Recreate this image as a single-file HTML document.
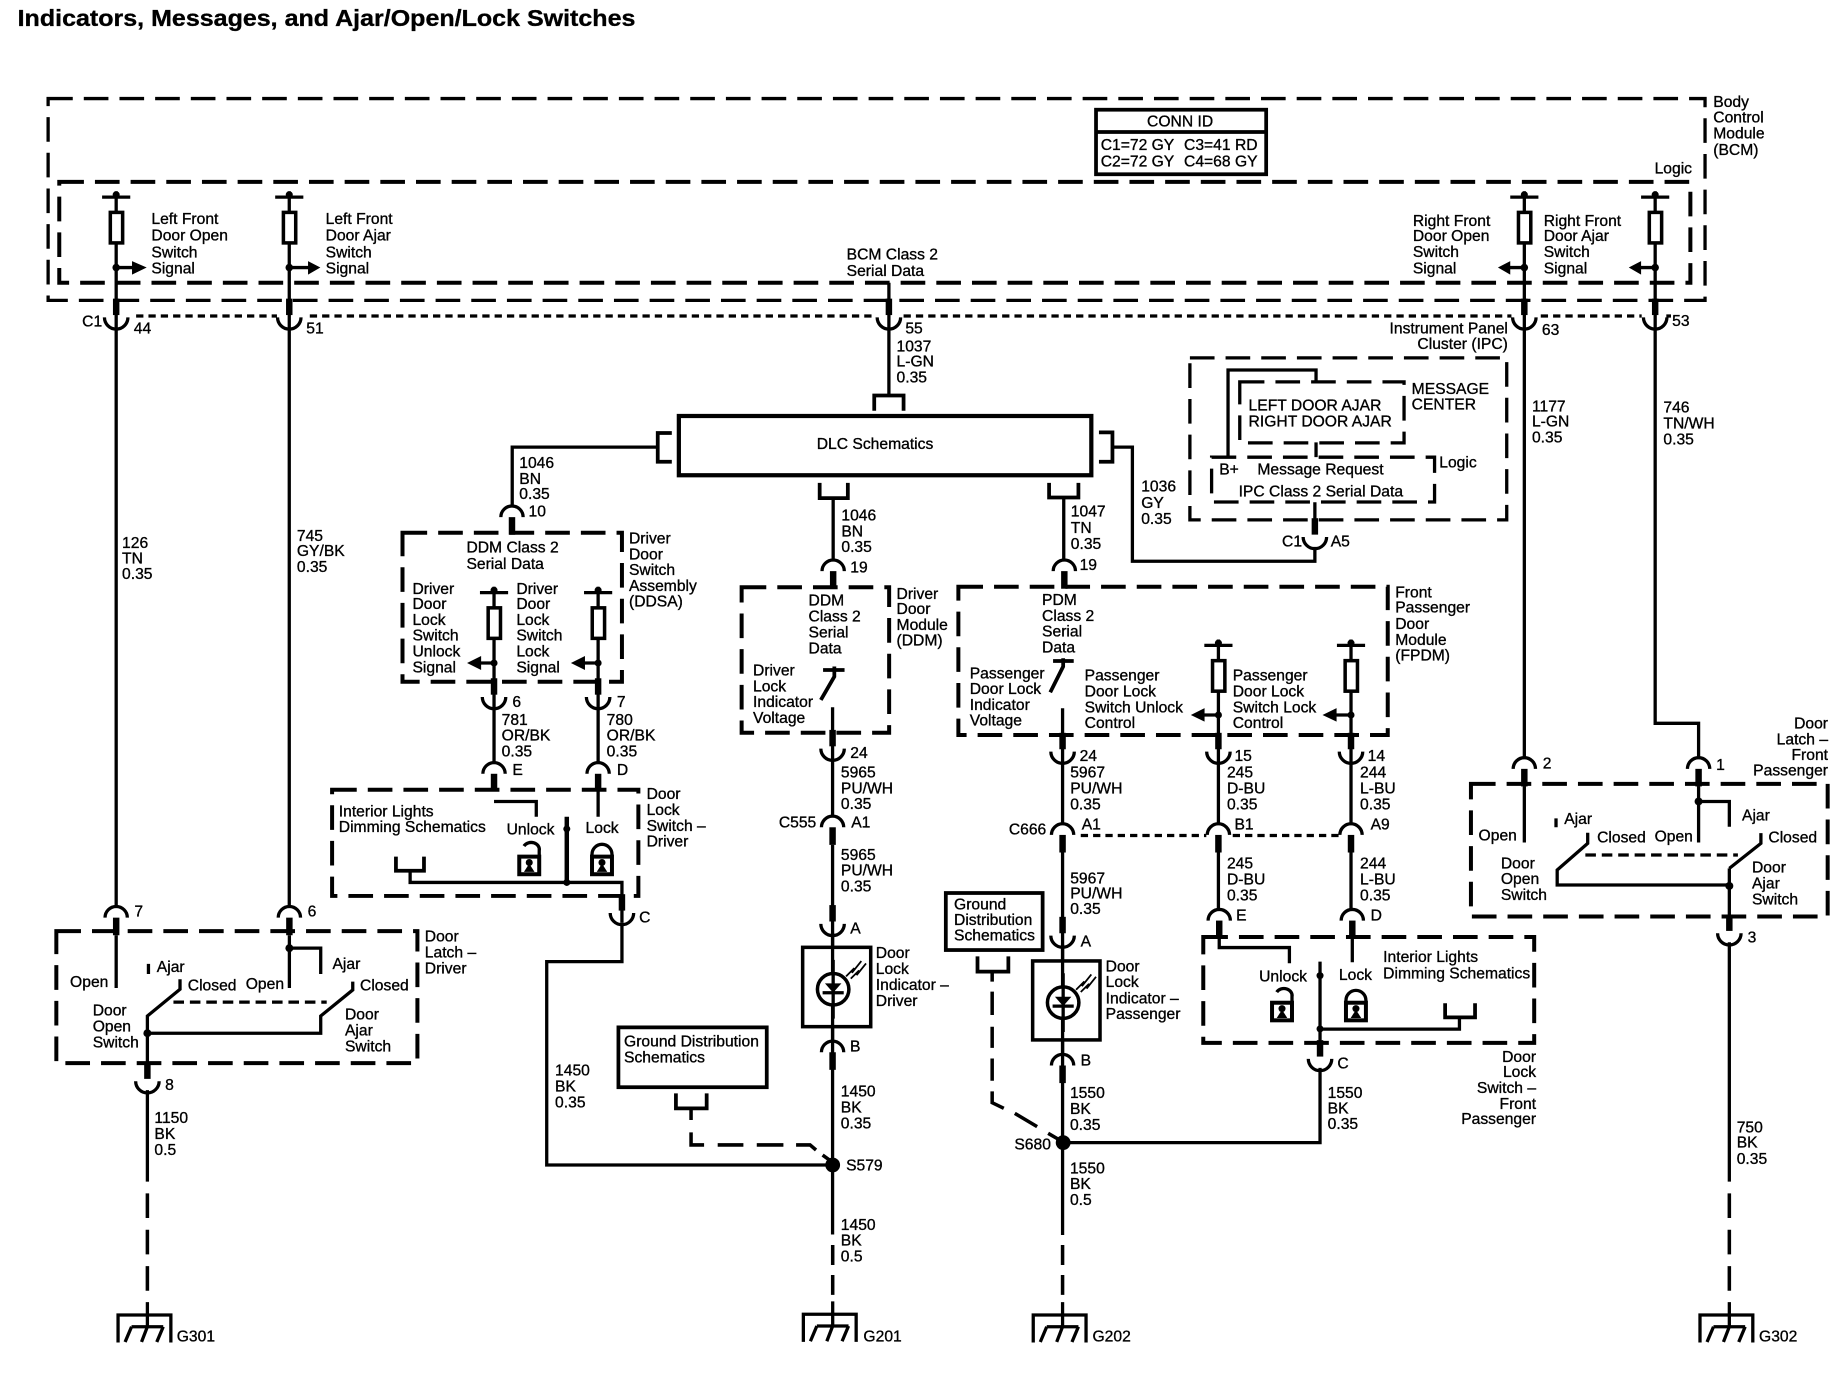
<!DOCTYPE html>
<html><head><meta charset="utf-8"><title>Indicators, Messages, and Ajar/Open/Lock Switches</title>
<style>
html,body{margin:0;padding:0;background:#fff}
svg{display:block}
text{font-family:"Liberation Sans",Arial,sans-serif;font-size:13.35px;fill:#000;stroke:#000;stroke-width:.28}
.w{stroke:#000;stroke-width:2.8;fill:none}
.th{stroke:#000;stroke-width:5.5;fill:none}
.b{stroke:#000;stroke-width:3.4;fill:none;stroke-dasharray:21 9.4}
.b2{stroke:#000;stroke-width:2.8;fill:none;stroke-dasharray:21 9.4}
.o{stroke:#000;stroke-width:3.2;fill:none}
.dot{stroke:#000;stroke-width:2.8;fill:none;stroke-dasharray:6.2 4.3}
.ld{stroke:#000;stroke-width:3;fill:none;stroke-dasharray:21 10}
.ls{stroke:#000;stroke-width:3;fill:none;stroke-dasharray:17 8.5}
.e{stroke:#000;stroke-width:3;fill:none}
.s{fill:#000;stroke:none}
</style></head><body>
<svg xmlns="http://www.w3.org/2000/svg" width="1840" height="1376" viewBox="0 0 1568 1172.6">
<defs>
<g id="u"><path class="w" d="M-10-8A10 10 0 0 0 10-8"/><path class="th" d="M0-10V-24"/></g>
<g id="n"><path class="w" d="M-9.500 9A9.500 9.500 0 0 1 9.500 9"/><path class="th" d="M0 9V24"/></g>
<g id="f"><path class="w" d="M-12 0H12M0-5V13"/><circle class="s" cy="-2" r="3"/><rect x="-5" y="13" width="10.500" height="26" fill="#fff" stroke="#000" stroke-width="3"/></g>
<g id="g"><path class="w" d="M0-11V10M-25 23.500V0H20V23.500M-13.500 10H13.500M-13.500 10L-19 23M0 10L-5 23M13.500 10L8 23"/></g>
<g id="led"><circle r="13.400" fill="#fff" stroke="#000" stroke-width="3"/><path class="w" d="M0-25V25M-9 3H9"/><path class="s" d="M-7-5H7L0 3Z"/><path stroke="#000" stroke-width="1.500" fill="none" d="M11-11L18-18L16-14L24-24M15-9L22-16L20-12L28-22"/></g>
<g id="lk"><path class="w" d="M0 0V-2A8.500 8.500 0 0 1 17-2V0"/><rect width="17" height="15" fill="#fff" stroke="#000" stroke-width="3.400"/><circle class="s" cx="8.500" cy="5" r="3"/><path class="s" d="M4 13L8.500 6L13 13Z"/></g>
<g id="ul"><path class="w" d="M4-9A7 6 0 0 1 17-5V0"/><rect width="17" height="15" fill="#fff" stroke="#000" stroke-width="3.400"/><circle class="s" cx="8.500" cy="5" r="3"/><path class="s" d="M4 13L8.500 6L13 13Z"/></g>
</defs>

<text x="15" y="22.200" textLength="526.500" lengthAdjust="spacingAndGlyphs" style="font-size:19.500px;font-weight:bold">Indicators, Messages, and Ajar/Open/Lock Switches</text>

<!-- BCM -->
<rect class="b2" x="41" y="84" width="1412" height="172"/>
<rect class="b" x="50.500" y="155" width="1390" height="86"/>
<rect class="o" x="934" y="93.500" width="145" height="55" fill="#fff"/>
<path class="o" d="M934 112.500H1079"/>
<text x="977.500" y="108">CONN ID</text>
<text x="938" y="128">C1=72 GY</text><text x="1009" y="128">C3=41 RD</text>
<text x="938" y="141.800">C2=72 GY</text><text x="1009" y="141.800">C4=68 GY</text>
<text x="1460" y="91.300">Body</text><text x="1460" y="104.600">Control</text><text x="1460" y="118">Module</text><text x="1460" y="132">(BCM)</text>
<text x="1410" y="147.700">Logic</text>

<path class="dot" d="M116 269.300H236M264 269.300H746M770 269.300H1288M1313 269.300H1399M1420 269.300H1424"/>
<text x="70" y="278.400">C1</text><text x="114" y="284">44</text><text x="261" y="284">51</text><text x="771.500" y="284">55</text><text x="1314" y="285.300">63</text><text x="1425" y="278">53</text>

<!-- wire 1 -->
<use href="#f" x="99" y="168"/><use href="#f" x="246.500" y="168"/>
<use href="#f" x="1299" y="168"/><use href="#f" x="1410.500" y="168"/>
<path class="w" d="M99 207V773M246.500 207V773M1299 207V646M1410.500 207V616.400H1447.500V646"/>
<path class="w" d="M99 228H113M246.500 228H263M1299 228H1286M1410.500 228H1398"/>
<circle class="s" cx="99" cy="228" r="3.200"/><circle class="s" cx="246.500" cy="228" r="3.200"/><circle class="s" cx="1299" cy="228" r="3.200"/><circle class="s" cx="1410.500" cy="228" r="3.200"/>
<path class="s" d="M112.500 222.500L125 228L112.500 234ZM262.500 222.500L273 228L262.500 234ZM1287 222.500L1276.500 228L1287 234ZM1398.500 222.500L1388 228L1398.500 234Z"/>
<use href="#u" x="99" y="278.500"/><use href="#u" x="246.500" y="278.500"/><use href="#u" x="1299" y="278.500"/><use href="#u" x="1410.500" y="278.500"/>
<text x="129" y="191">Left Front</text><text x="129" y="205">Door Open</text><text x="129" y="219.300">Switch</text><text x="129" y="233">Signal</text>
<text x="277.500" y="191">Left Front</text><text x="277.500" y="205">Door Ajar</text><text x="277.500" y="219.300">Switch</text><text x="277.500" y="233">Signal</text>
<text x="1204" y="192.400">Right Front</text><text x="1204" y="205.400">Door Open</text><text x="1204" y="219">Switch</text><text x="1204" y="233">Signal</text>
<text x="1315.500" y="192.400">Right Front</text><text x="1315.500" y="205.400">Door Ajar</text><text x="1315.500" y="219">Switch</text><text x="1315.500" y="233">Signal</text>
<text x="721.500" y="221">BCM Class 2</text><text x="721.500" y="235">Serial Data</text>

<path class="w" d="M757.500 241V337"/><use href="#u" x="757.500" y="278.500"/>
<path class="o" d="M745 350V337H770V350"/>
<text x="764" y="299.700">1037</text><text x="764" y="312.500">L-GN</text><text x="764" y="326">0.35</text>
<text x="104" y="467">126</text><text x="104" y="480">TN</text><text x="104" y="493.500">0.35</text>
<text x="253" y="461">745</text><text x="253" y="474">GY/BK</text><text x="253" y="487.500">0.35</text>
<text x="1305.500" y="350.500">1177</text><text x="1305.500" y="363.500">L-GN</text><text x="1305.500" y="377">0.35</text>
<text x="1417.500" y="351.500">746</text><text x="1417.500" y="365">TN/WH</text><text x="1417.500" y="379">0.35</text>

<!-- DLC -->
<rect class="o" x="578.500" y="354.500" width="351.500" height="50.500" style="stroke-width:3.600"/>
<text x="696" y="382.700">DLC Schematics</text>
<path class="o" d="M572.500 369H560.500V393.500H572.500M936.500 368.500H948V393.500H936.500M698.500 411.500V424.500H722.500V411.500M894 411.500V424H919V411.500"/>
<path class="w" d="M560 381H436.500V432M948 381H965V478.300H1120.500V466M710 424.500V478M906.500 424V478"/>
<text x="442.500" y="399">1046</text><text x="442.500" y="412.500">BN</text><text x="442.500" y="425.300">0.35</text>
<text x="717" y="443.600">1046</text><text x="717" y="457.300">BN</text><text x="717" y="470.600">0.35</text>
<text x="912.500" y="440">1047</text><text x="912.500" y="454">TN</text><text x="912.500" y="468">0.35</text>
<text x="972.500" y="419">1036</text><text x="972.500" y="433">GY</text><text x="972.500" y="446.700">0.35</text>

<!-- IPC -->
<rect class="b2" x="1014" y="305" width="270" height="138"/>
<text x="1285" y="284.300" text-anchor="end">Instrument Panel</text><text x="1285" y="297.400" text-anchor="end">Cluster (IPC)</text>
<path class="w" d="M1046.500 389.600V315.300H1121.500V325.400M1121.500 377V389.600M1120.500 428V446"/>
<rect class="b2" x="1056.500" y="325.400" width="140" height="52"/>
<rect class="b2" x="1032.500" y="389.600" width="190" height="38.200"/>
<text x="1064" y="350">LEFT DOOR AJAR</text><text x="1064" y="363.500">RIGHT DOOR AJAR</text>
<text x="1203" y="335.800">MESSAGE</text><text x="1203" y="349">CENTER</text>
<text x="1039" y="404.300">B+</text><text x="1071.500" y="404.300">Message Request</text><text x="1226.500" y="398.500">Logic</text>
<text x="1055.500" y="423.200">IPC Class 2 Serial Data</text>
<use href="#u" x="1120.500" y="465.600"/>
<text x="1092.500" y="465.600">C1</text><text x="1134" y="465.600">A5</text>

<!-- DDSA -->
<use href="#n" x="436.300" y="431.700"/><text x="450.400" y="440">10</text>
<rect class="b" x="343" y="454" width="187" height="127"/>
<text x="397.500" y="471">DDM Class 2</text><text x="397.500" y="484.800">Serial Data</text>
<text x="536" y="463">Driver</text><text x="536" y="476.600">Door</text><text x="536" y="490">Switch</text><text x="536" y="503.600">Assembly</text><text x="536" y="517">(DDSA)</text>
<text x="351.500" y="506">Driver</text><text x="351.500" y="519">Door</text><text x="351.500" y="532.500">Lock</text><text x="351.500" y="546">Switch</text><text x="351.500" y="559.500">Unlock</text><text x="351.500" y="573">Signal</text>
<text x="440" y="506">Driver</text><text x="440" y="519">Door</text><text x="440" y="532.500">Lock</text><text x="440" y="546">Switch</text><text x="440" y="559.500">Lock</text><text x="440" y="573">Signal</text>
<use href="#f" x="421" y="505"/><use href="#f" x="509.700" y="505"/>
<path class="w" d="M421 544V650M509.700 544V650M421 565H409M509.700 565H498"/>
<circle class="s" cx="421" cy="565" r="3"/><circle class="s" cx="509.700" cy="565" r="3"/>
<path class="s" d="M410 559L398 565L410 571ZM498.500 559L486.500 565L498.500 571Z"/>
<use href="#u" x="421" y="602"/><use href="#u" x="509.700" y="602"/>
<text x="436.600" y="602.700">6</text><text x="525.700" y="602.700">7</text>
<text x="427.500" y="617.800">781</text><text x="427.500" y="631">OR/BK</text><text x="427.500" y="644.700">0.35</text>
<text x="517" y="617.800">780</text><text x="517" y="631">OR/BK</text><text x="517" y="644.700">0.35</text>
<use href="#n" x="421" y="650.400"/><use href="#n" x="509.700" y="650.400"/>
<text x="436.600" y="660.400">E</text><text x="525.700" y="660.400">D</text>

<!-- Door lock switch driver -->
<rect class="b" x="283" y="673" width="261" height="90.500"/>
<text x="551" y="681">Door</text><text x="551" y="694.500">Lock</text><text x="551" y="708">Switch –</text><text x="551" y="721.500">Driver</text>
<text x="288.700" y="696">Interior Lights</text><text x="288.700" y="709">Dimming Schematics</text>
<path class="w" d="M421 683H457V696M509.700 673V696M349.500 742V752H530V786"/>
<path class="o" d="M337.400 730V742H361.300V730"/><path stroke="#000" stroke-width="3.800" fill="none" d="M483 696V752"/>
<circle class="s" cx="483" cy="706.400" r="3"/><circle class="s" cx="483" cy="752" r="3"/>
<text x="431.700" y="711">Unlock</text><text x="499" y="710">Lock</text>
<use href="#ul" x="442.500" y="730"/><use href="#lk" x="504.500" y="730"/>
<use href="#u" x="530" y="786"/><text x="544.700" y="786">C</text>
<path class="w" d="M530 786V819.500H465.900V992.800H709.600"/>
<text x="473" y="916.600">1450</text><text x="473" y="930">BK</text><text x="473" y="943.600">0.35</text>

<!-- Door latch driver -->
<use href="#n" x="99" y="773"/><use href="#n" x="246.600" y="773"/>
<text x="114.500" y="781">7</text><text x="262.200" y="781">6</text>
<rect class="b" x="48" y="793.500" width="307.700" height="112.500"/>
<text x="362" y="802.400">Door</text><text x="362" y="815.800">Latch –</text><text x="362" y="829.400">Driver</text>
<path class="w" d="M99 797V842M246.600 797V842M246.600 808H273.300V830M126.500 821.400V830M153.400 834.500V843L125.600 865.800V906M125.600 880.500H273.300V865.800L300.600 843.600V836.500"/>
<circle class="s" cx="246.600" cy="808" r="3.400"/><circle class="s" cx="125.600" cy="880.500" r="3.400"/>
<path class="w" stroke-dasharray="9 5" d="M147.800 854H278.400"/>
<text x="59.700" y="841.300">Open</text><text x="133.600" y="828.500">Ajar</text><text x="160" y="844">Closed</text><text x="209.400" y="842.800">Open</text><text x="283.300" y="825.700">Ajar</text><text x="306.800" y="844">Closed</text>
<text x="79" y="865.500">Door</text><text x="79" y="879">Open</text><text x="79" y="892.500">Switch</text>
<text x="294" y="869">Door</text><text x="294" y="882.500">Ajar</text><text x="294" y="896">Switch</text>
<use href="#u" x="125.600" y="929.400"/><text x="140.700" y="929">8</text>
<path class="w" d="M125.600 929V1007"/><path class="ld" d="M125.600 1017V1100"/>
<text x="131.600" y="957.200">1150</text><text x="131.600" y="970.600">BK</text><text x="131.600" y="984.200">0.5</text>
<use href="#g" x="125.600" y="1120.600"/><text x="150.600" y="1143">G301</text>

<!-- DDM -->
<use href="#n" x="710" y="477.700"/><text x="724.600" y="488">19</text>
<rect class="b" x="632" y="500.400" width="125.700" height="124"/>
<text x="689" y="516">DDM</text><text x="689" y="529.700">Class 2</text><text x="689" y="543.300">Serial</text><text x="689" y="556.700">Data</text>
<text x="764" y="510.400">Driver</text><text x="764" y="523.400">Door</text><text x="764" y="536.800">Module</text><text x="764" y="550">(DDM)</text>
<text x="641.700" y="575.700">Driver</text><text x="641.700" y="589.300">Lock</text><text x="641.700" y="602.700">Indicator</text><text x="641.700" y="616.300">Voltage</text>
<path class="o" d="M701.400 571H719.700M711 568V576.600L699.500 596.500"/>
<path class="w" d="M709.500 602.700V696M709.500 720V1052"/>
<use href="#u" x="709.500" y="646"/><text x="724.600" y="646">24</text>
<text x="716.600" y="662.400">5965</text><text x="716.600" y="676">PU/WH</text><text x="716.600" y="689.300">0.35</text>
<use href="#n" x="709.500" y="696"/><text x="663.700" y="705">C555</text><text x="725.400" y="705">A1</text>
<text x="716.600" y="732.800">5965</text><text x="716.600" y="746">PU/WH</text><text x="716.600" y="759.800">0.35</text>
<use href="#u" x="709.500" y="795.300"/><text x="724.600" y="795.300">A</text>
<rect x="684" y="807.300" width="58" height="67.600" fill="#fff" stroke="#000" stroke-width="3"/>
<path class="w" d="M709.500 795V889"/>
<use href="#led" x="710" y="843"/>
<text x="746.300" y="816.600">Door</text><text x="746.300" y="830">Lock</text><text x="746.300" y="843.600">Indicator –</text><text x="746.300" y="857.300">Driver</text>
<use href="#n" x="709.500" y="887.700"/><text x="724.400" y="896.200">B</text>
<text x="716.500" y="934.500">1450</text><text x="716.500" y="947.900">BK</text><text x="716.500" y="961.500">0.35</text>
<text x="716.500" y="1048">1450</text><text x="716.500" y="1061.500">BK</text><text x="716.500" y="1075">0.5</text>
<circle class="s" cx="709.600" cy="992.800" r="6.300"/><text x="721" y="997.600">S579</text>
<path class="ls" d="M709.600 1061V1104"/>
<use href="#g" x="709.600" y="1120"/><text x="735.800" y="1143">G201</text>
<rect class="o" x="527" y="875.500" width="126.400" height="51"/>
<text x="531.800" y="892">Ground Distribution</text><text x="531.800" y="905.300">Schematics</text>
<path class="o" d="M576 931.700V944.500H602.200V931.700"/>
<path class="e" d="M588.900 945V954.400M588.900 965V975.700H600M611.600 975.700H633.500M644.900 975.700H667.600M678.400 975.700H690.300L695.400 980M701 984.300L708.800 990"/>

<!-- FPDM -->
<use href="#n" x="907" y="477.700"/><text x="920" y="485.800">19</text>
<rect class="b" x="816.700" y="500" width="365.900" height="126.400"/>
<text x="888" y="515.600">PDM</text><text x="888" y="529.200">Class 2</text><text x="888" y="542.500">Serial</text><text x="888" y="555.900">Data</text>
<text x="1189" y="509">Front</text><text x="1189" y="522">Passenger</text><text x="1189" y="536">Door</text><text x="1189" y="549.600">Module</text><text x="1189" y="563">(FPDM)</text>
<text x="826.400" y="578">Passenger</text><text x="826.400" y="591.400">Door Lock</text><text x="826.400" y="605">Indicator</text><text x="826.400" y="618.400">Voltage</text>
<path class="o" d="M897.400 563.300H915M906 561V568L895 590"/>
<text x="924.300" y="580">Passenger</text><text x="924.300" y="593.700">Door Lock</text><text x="924.300" y="607">Switch Unlock</text><text x="924.300" y="620.600">Control</text>
<text x="1050.500" y="580">Passenger</text><text x="1050.500" y="593.700">Door Lock</text><text x="1050.500" y="607">Switch Lock</text><text x="1050.500" y="620.600">Control</text>
<use href="#f" x="1038.300" y="550"/><use href="#f" x="1151.300" y="550"/>
<path class="w" d="M905.500 603.600V702.500M1038.300 589V702.500M1151.300 589V702.500M1038.300 609.300H1026M1151.300 609.300H1138.500M905.500 725V1052.400M1038.300 725V775.500M1151.300 725V775.500"/>
<circle class="s" cx="1038.300" cy="609.300" r="3"/><circle class="s" cx="1151.300" cy="609.300" r="3"/>
<path class="s" d="M1026.500 603.500L1014.800 609.300L1026.500 615ZM1139 603.500L1127 609.300L1139 615Z"/>
<use href="#u" x="905.500" y="648.500"/><use href="#u" x="1038.300" y="648.500"/><use href="#u" x="1151.300" y="648.500"/>
<text x="920" y="648.500">24</text><text x="1052" y="648.500">15</text><text x="1165.500" y="648.500">14</text>
<text x="912" y="662.400">5967</text><text x="912" y="676">PU/WH</text><text x="912" y="689.700">0.35</text>
<text x="1045.600" y="662.400">245</text><text x="1045.600" y="676">D-BU</text><text x="1045.600" y="689.700">0.35</text>
<text x="1159" y="662.400">244</text><text x="1159" y="676">L-BU</text><text x="1159" y="689.700">0.35</text>
<use href="#n" x="905.500" y="702.500"/><use href="#n" x="1038.300" y="702.500"/><use href="#n" x="1151.300" y="702.500"/>
<text x="859.700" y="711">C666</text><text x="921.800" y="706.700">A1</text><text x="1052" y="706.700">B1</text><text x="1168" y="706.700">A9</text>
<path class="dot" d="M921 712H1028M1050.500 712H1143"/>
<text x="912" y="752.800">5967</text><text x="912" y="765.600">PU/WH</text><text x="912" y="779">0.35</text>
<text x="1045.600" y="740">245</text><text x="1045.600" y="753.600">D-BU</text><text x="1045.600" y="767.500">0.35</text>
<text x="1159" y="740">244</text><text x="1159" y="753.600">L-BU</text><text x="1159" y="767.500">0.35</text>
<use href="#u" x="905.500" y="805.300"/><text x="920.900" y="806.700">A</text>
<rect x="880" y="818.900" width="57.400" height="67.300" fill="#fff" stroke="#000" stroke-width="3"/>
<path class="w" d="M905.500 805V900"/>
<use href="#led" x="906" y="854.400"/>
<text x="942.200" y="828">Door</text><text x="942.200" y="841.300">Lock</text><text x="942.200" y="855">Indicator –</text><text x="942.200" y="868.300">Passenger</text>
<use href="#n" x="905.500" y="899"/><text x="920.900" y="908">B</text>
<text x="911.800" y="935.900">1550</text><text x="911.800" y="949.300">BK</text><text x="911.800" y="962.900">0.35</text>
<text x="911.800" y="999.900">1550</text><text x="911.800" y="1013.200">BK</text><text x="911.800" y="1026.800">0.5</text>
<circle class="s" cx="906" cy="973.700" r="6.300"/><text x="864.400" y="979.400">S680</text>
<path class="w" d="M906 973.700H1124.900V910"/>
<text x="1131.400" y="935.900">1550</text><text x="1131.400" y="948.700">BK</text><text x="1131.400" y="962">0.35</text>
<path class="ls" d="M905.500 1061V1104"/>
<use href="#g" x="905.500" y="1120.600"/><text x="931" y="1143">G202</text>
<rect class="o" x="806" y="761" width="82.500" height="48.600"/>
<text x="813" y="774.900">Ground</text><text x="813" y="788.200">Distribution</text><text x="813" y="801.600">Schematics</text>
<path class="o" d="M833 815V828H859.300V815"/>
<path class="e" d="M845.500 829V836.500M845.500 845V865M845.500 875V893M845.500 902V921M845.500 930V939.700L855.400 944.500M864.800 948.800L883.800 960.100M893.200 965.800L903 971.500"/>

<!-- Door lock switch passenger -->
<use href="#n" x="1039" y="775.500"/><use href="#n" x="1152.400" y="775.500"/>
<text x="1053.400" y="784.600">E</text><text x="1168" y="784.600">D</text>
<rect class="b" x="1025.400" y="798.500" width="282" height="90.200"/>
<path class="w" d="M1039 790V807.500H1098.800V820.900M1152.400 790V820M1124.900 819.500V895M1124.900 877H1243.700V867"/>
<path class="o" d="M1231.500 855V867H1257V855"/>
<circle class="s" cx="1124.900" cy="831.400" r="3"/><circle class="s" cx="1124.900" cy="876.800" r="3"/>
<text x="1073" y="836.500">Unlock</text><text x="1141" y="835">Lock</text>
<text x="1178.700" y="820">Interior Lights</text><text x="1178.700" y="833.700">Dimming Schematics</text>
<use href="#ul" x="1084" y="854.500"/><use href="#lk" x="1147" y="854.500"/>
<use href="#u" x="1124.900" y="910.400"/><text x="1139.700" y="910.400">C</text>
<text x="1309" y="905" text-anchor="end">Door</text><text x="1309" y="918" text-anchor="end">Lock</text><text x="1309" y="931.500" text-anchor="end">Switch –</text><text x="1309" y="945" text-anchor="end">Front</text><text x="1309" y="958" text-anchor="end">Passenger</text>

<!-- Door latch passenger -->
<use href="#n" x="1299" y="646.200"/><use href="#n" x="1447.500" y="646.200"/>
<text x="1314.700" y="654.800">2</text><text x="1462.400" y="656">1</text>
<rect class="b" x="1253.500" y="668" width="304" height="113"/>
<text x="1557.800" y="620.700" text-anchor="end">Door</text><text x="1557.800" y="634.300" text-anchor="end">Latch –</text><text x="1557.800" y="647.600" text-anchor="end">Front</text><text x="1557.800" y="661" text-anchor="end">Passenger</text>
<path class="w" d="M1299 670V718M1447.500 670V718M1447.500 683H1473.700V704.500M1326 697.400V705M1353 709.600V718.700L1327 741.400V754.200H1473.700M1473.700 740L1500.600 718.700V710M1473.700 740V781"/>
<circle class="s" cx="1447.500" cy="683" r="3.400"/><circle class="s" cx="1473.700" cy="755" r="3.400"/>
<path class="w" stroke-dasharray="9 5" d="M1351 728.600H1481"/>
<text x="1260" y="716.400">Open</text><text x="1333" y="702.200">Ajar</text><text x="1361" y="717.800">Closed</text><text x="1410" y="717">Open</text><text x="1484.500" y="699.400">Ajar</text><text x="1507" y="717.800">Closed</text>
<text x="1279" y="740">Door</text><text x="1279" y="753.300">Open</text><text x="1279" y="767">Switch</text>
<text x="1493" y="743.400">Door</text><text x="1493" y="757">Ajar</text><text x="1493" y="771">Switch</text>
<use href="#u" x="1473.700" y="803.300"/><text x="1489.300" y="803.300">3</text>
<path class="w" d="M1473.700 803V1007"/><path class="ld" d="M1473.700 1017V1100"/>
<text x="1480" y="965">750</text><text x="1480" y="978">BK</text><text x="1480" y="992">0.35</text>
<use href="#g" x="1473.700" y="1120.600"/><text x="1499" y="1143">G302</text>
</svg>
</body></html>
